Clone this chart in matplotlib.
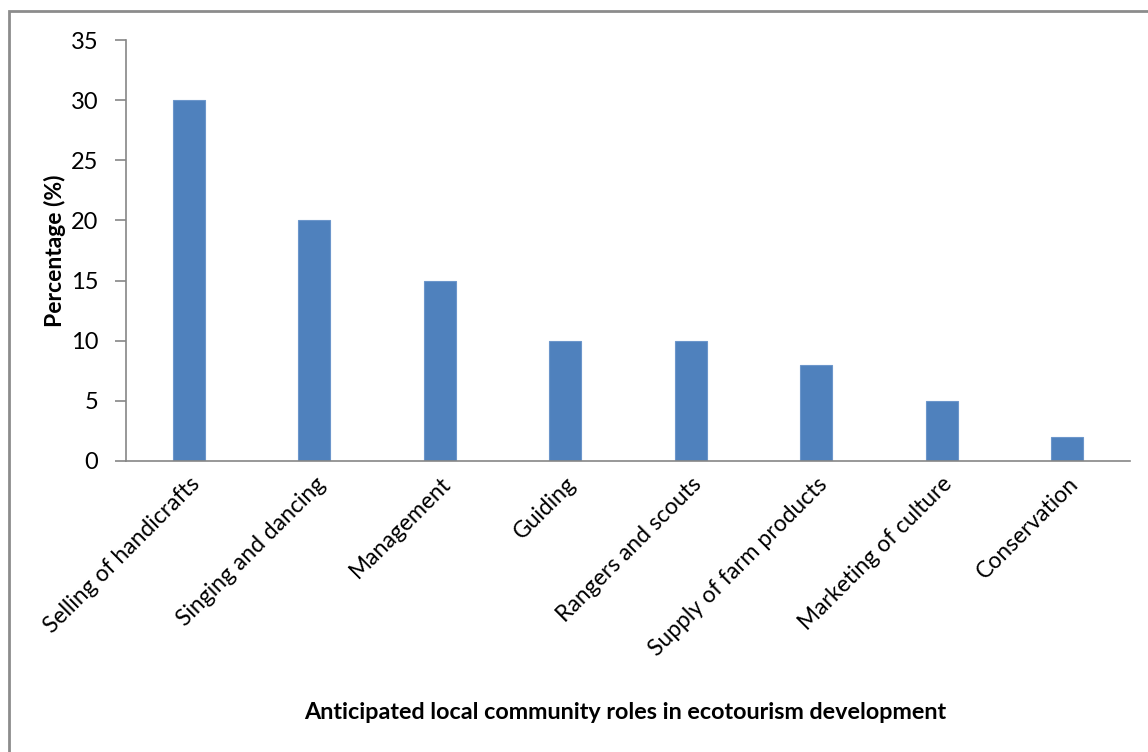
import matplotlib
matplotlib.use("Agg")
import matplotlib.pyplot as plt
from matplotlib.patches import Rectangle

roles = ["Selling of handicrafts", "Singing and dancing", "Management", "Guiding",
         "Rangers and scouts", "Supply of farm products", "Marketing of culture",
         "Conservation"]
percent = [30, 20, 15, 10, 10, 8, 5, 2]
yticks = [0, 5, 10, 15, 20, 25, 30, 35]

plt.rcParams['font.family'] = ['Lato', 'DejaVu Sans']

fig = plt.figure(figsize=(11.48, 7.52), dpi=100)
ax = fig.add_axes([0.1098, 0.387, 0.8745, 0.5598])

x = range(len(roles))
ax.bar(x, percent, width=0.255, color='#4F81BD', edgecolor='#6C96CB', linewidth=0.8)

ax.set_xlim(-0.5, len(roles) - 0.5)
ax.set_ylim(0, 35)
ax.set_yticks(yticks)
ax.set_yticklabels([str(v) for v in yticks], fontsize=17)
ax.set_xticks(list(x))
ax.set_xticklabels(roles, rotation=45, ha='right', rotation_mode='anchor', fontsize=16.5)

for s in ['top', 'right']:
    ax.spines[s].set_visible(False)
for s in ['left', 'bottom']:
    ax.spines[s].set_color('#868686')
    ax.spines[s].set_linewidth(1.2)
ax.tick_params(axis='y', length=8, width=1.2, color='#868686', pad=12)
ax.tick_params(axis='x', length=0, pad=9)

ax.set_ylabel('Percentage (%)', fontsize=16.5, fontweight='bold', va='center')
ax.yaxis.set_label_coords(-0.0707, 0.5)
fig.text(0.545, 0.053, 'Anticipated local community roles in ecotourism development',
         ha='center', va='center', fontsize=16.8, fontweight='bold')

# outer chart frame
fig.patches.append(Rectangle((0.008, -0.05), 1.1, 1.036, transform=fig.transFigure,
                             fill=False, edgecolor='#8C8C8C', linewidth=2))

fig.savefig('out.png', dpi=100)
